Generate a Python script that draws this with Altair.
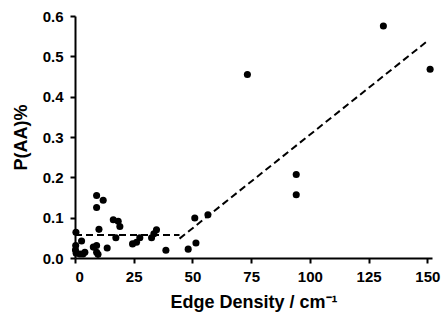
import altair as alt
import pandas as pd

# Scatter data (Edge density, P(AA)%)
edge_density = [0.4, 0.3, 0.2, 0.5, 2.8, 2.1, 4.2, 3.4, 9.2, 12.0, 9.2, 10.2, 9.2, 7.8,
                9.2, 9.8, 13.7, 16.3, 18.4, 19.1, 17.4, 24.5, 26.2, 27.6, 32.6, 33.6,
                34.7, 38.7, 48.2, 51.5, 51.0, 56.6, 73.4, 94.2, 94.2, 131.3, 151.2]
p_aa = [0.064, 0.031, 0.020, 0.012, 0.042, 0.010, 0.014, 0.010, 0.155, 0.143, 0.125,
        0.071, 0.031, 0.027, 0.014, 0.009, 0.025, 0.095, 0.091, 0.078, 0.050, 0.035,
        0.039, 0.050, 0.050, 0.060, 0.070, 0.019, 0.022, 0.037, 0.099, 0.107, 0.455,
        0.207, 0.157, 0.575, 0.468]

# Dashed fit segments
fit_segment = ["low", "low", "high", "high"]
fit_x = [0.0, 44.5, 44.5, 150.5]
fit_y = [0.057, 0.057, 0.048, 0.540]

pts = pd.DataFrame({"x": edge_density, "y": p_aa})
fit = pd.DataFrame({"seg": fit_segment, "x": fit_x, "y": fit_y})

FONT = "Liberation Sans"

xscale = alt.Scale(domain=[0, 152], nice=False, zero=False)
yscale = alt.Scale(domain=[0, 0.6], nice=False)

xaxis = alt.Axis(title="Edge Density / cm⁻¹", values=[0, 25, 50, 75, 100, 125, 150],
                 format="d", grid=False)
yaxis = alt.Axis(title="P(AA)%", values=[0, 0.1, 0.2, 0.3, 0.4, 0.5, 0.6],
                 format=".1f", grid=False)

points = alt.Chart(pts).mark_circle(size=50, color="black", opacity=1).encode(
    x=alt.X("x:Q", scale=xscale, axis=xaxis),
    y=alt.Y("y:Q", scale=yscale, axis=yaxis),
)

lines = alt.Chart(fit).mark_line(color="black", strokeWidth=2, strokeDash=[7, 4]).encode(
    x=alt.X("x:Q", scale=xscale),
    y=alt.Y("y:Q", scale=yscale),
    detail="seg:N",
)

chart = alt.layer(lines, points).properties(
    width=357, height=242,
    autosize=alt.AutoSizeParams(type="none"),
    padding={"left": 75, "top": 16, "right": 14, "bottom": 62},
    background="white",
).configure_view(stroke=None).configure_axis(
    domainColor="black", domainWidth=2, tickColor="black", tickWidth=2, tickSize=5,
    labelFont=FONT, labelFontSize=15, labelFontWeight="bold", labelColor="black",
    titleFont=FONT, titleFontSize=18, titleFontWeight="bold", titleColor="black",
).configure_axisX(labelPadding=6, titlePadding=9).configure_axisY(labelPadding=7, titlePadding=12)

chart.save("out.html", embed_options={"renderer": "svg", "actions": False})
